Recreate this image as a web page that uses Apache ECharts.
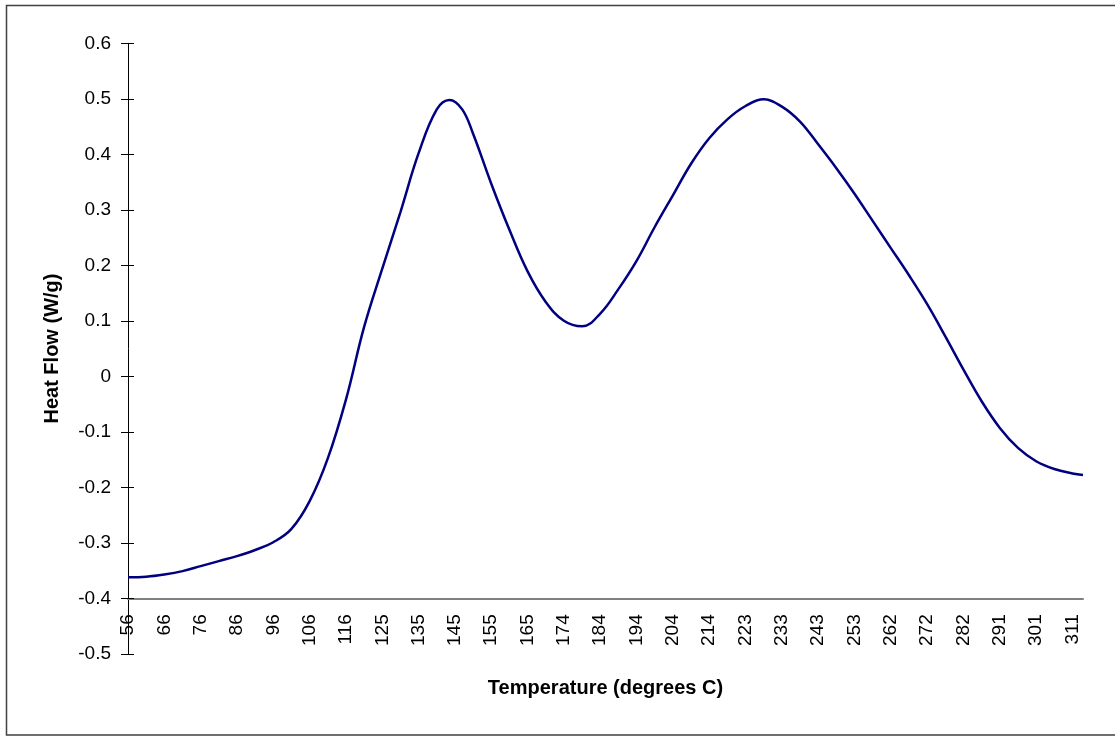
<!DOCTYPE html>
<html>
<head>
<meta charset="utf-8">
<script src="https://cdn.jsdelivr.net/npm/echarts@6/dist/echarts.min.js"></script>
<style>
html,body{margin:0;padding:0;background:#fff;}
#chart{width:1115px;height:736px;}
</style>
</head>
<body>
<div id="chart"></div>
<script>
// Tick labels of the temperature axis, one per label step
var xLabels = ['56','66','76','86','96','106','116','125','135','145','155','165','174','184','194','204','214','223','233','243','253','262','272','282','291','301','311'];
// Position of each sampled point, in label steps from the first label (56)
var xPos = [0, 0.5, 1, 1.5, 2, 2.5, 3, 3.5, 4, 4.5, 5, 5.5, 6, 6.5, 7, 7.5, 8, 8.5, 8.85, 9.2, 9.5, 10, 10.5, 11, 11.5, 12, 12.5, 13, 13.5, 14, 14.5, 15, 15.5, 16, 16.5, 17, 17.5, 18, 18.5, 19, 19.5, 20, 20.5, 21, 21.5, 22, 22.5, 23, 23.5, 24, 24.5, 25, 25.5, 26, 26.29];
// Heat flow (W/g) read at each position
var heatFlow = [-0.362, -0.361, -0.357, -0.351, -0.342, -0.333, -0.324, -0.313, -0.299, -0.275, -0.225, -0.148, -0.042, 0.089, 0.194, 0.296, 0.402, 0.481, 0.498, 0.481, 0.437, 0.347, 0.264, 0.189, 0.134, 0.100, 0.090, 0.113, 0.157, 0.208, 0.269, 0.326, 0.383, 0.429, 0.463, 0.487, 0.499, 0.486, 0.459, 0.418, 0.375, 0.329, 0.280, 0.231, 0.182, 0.130, 0.072, 0.012, -0.045, -0.093, -0.129, -0.153, -0.167, -0.175, -0.178];
var xMax = 26.29;
var yMin = -0.5, yMax = 0.6, yStep = 0.1;

var seriesData = xPos.map(function (x, i) { return [x, heatFlow[i]]; });
var font = 'Liberation Sans, Arial, sans-serif';
var gridLeft = 128, gridRight = 32;
var gridWidth = 1115 - gridLeft - gridRight;

var chart = echarts.init(document.getElementById('chart'), null, {renderer: 'canvas'});
chart.setOption({
  animation: false,
  backgroundColor: '#fff',
  grid: {left: gridLeft, right: gridRight, top: 43.3, bottom: 82.2, containLabel: false},
  xAxis: {
    type: 'value', min: 0, max: xMax, interval: 1,
    position: 'bottom', offset: -55.5,
    axisLine: {show: true, onZero: false, lineStyle: {color: '#808080', width: 2}},
    axisTick: {show: false},
    splitLine: {show: false},
    axisLabel: {
      rotate: 90, margin: 16, fontFamily: font, fontSize: 19, color: '#000',
      showMaxLabel: false,
      formatter: function (v) {
        var i = Math.round(v);
        return Math.abs(v - i) < 1e-6 && xLabels[i] !== undefined ? xLabels[i] : '';
      }
    },
    name: 'Temperature (degrees C)', nameLocation: 'middle', nameGap: 80,
    nameTextStyle: {fontFamily: font, fontSize: 20, fontWeight: 'bold', color: '#000'}
  },
  yAxis: [{
    type: 'value', min: yMin, max: yMax, interval: yStep, position: 'left',
    axisLine: {show: true, onZero: false, lineStyle: {color: '#000', width: 1}},
    axisTick: {show: true, length: 7, lineStyle: {color: '#000', width: 1}},
    splitLine: {show: false},
    axisLabel: {margin: 17, fontFamily: font, fontSize: 19, color: '#000',
      formatter: function (v) { return (Math.round(v * 10) / 10).toString(); }},
    name: 'Heat Flow (W/g)', nameLocation: 'middle', nameRotate: 90, nameGap: 66,
    nameTextStyle: {fontFamily: font, fontSize: 20, fontWeight: 'bold', color: '#000'}
  }, {
    // second copy of the scale, moved onto the left axis line, so ticks cross it
    type: 'value', min: yMin, max: yMax, interval: yStep, position: 'right',
    offset: -gridWidth,
    axisLine: {show: false, onZero: false},
    axisTick: {show: true, inside: false, length: 6, lineStyle: {color: '#000', width: 1}},
    axisLabel: {show: false},
    splitLine: {show: false}
  }],
  series: [{
    type: 'line', xAxisIndex: 0, yAxisIndex: 0,
    data: seriesData, smooth: 0.4, symbol: 'none',
    lineStyle: {color: '#000080', width: 2.5}
  }],
  graphic: [{
    type: 'rect', silent: true,
    shape: {x: 6.5, y: 5.5, width: 1120, height: 729.5},
    style: {fill: 'none', stroke: '#404040', lineWidth: 1.5}
  }]
});
</script>
</body>
</html>
